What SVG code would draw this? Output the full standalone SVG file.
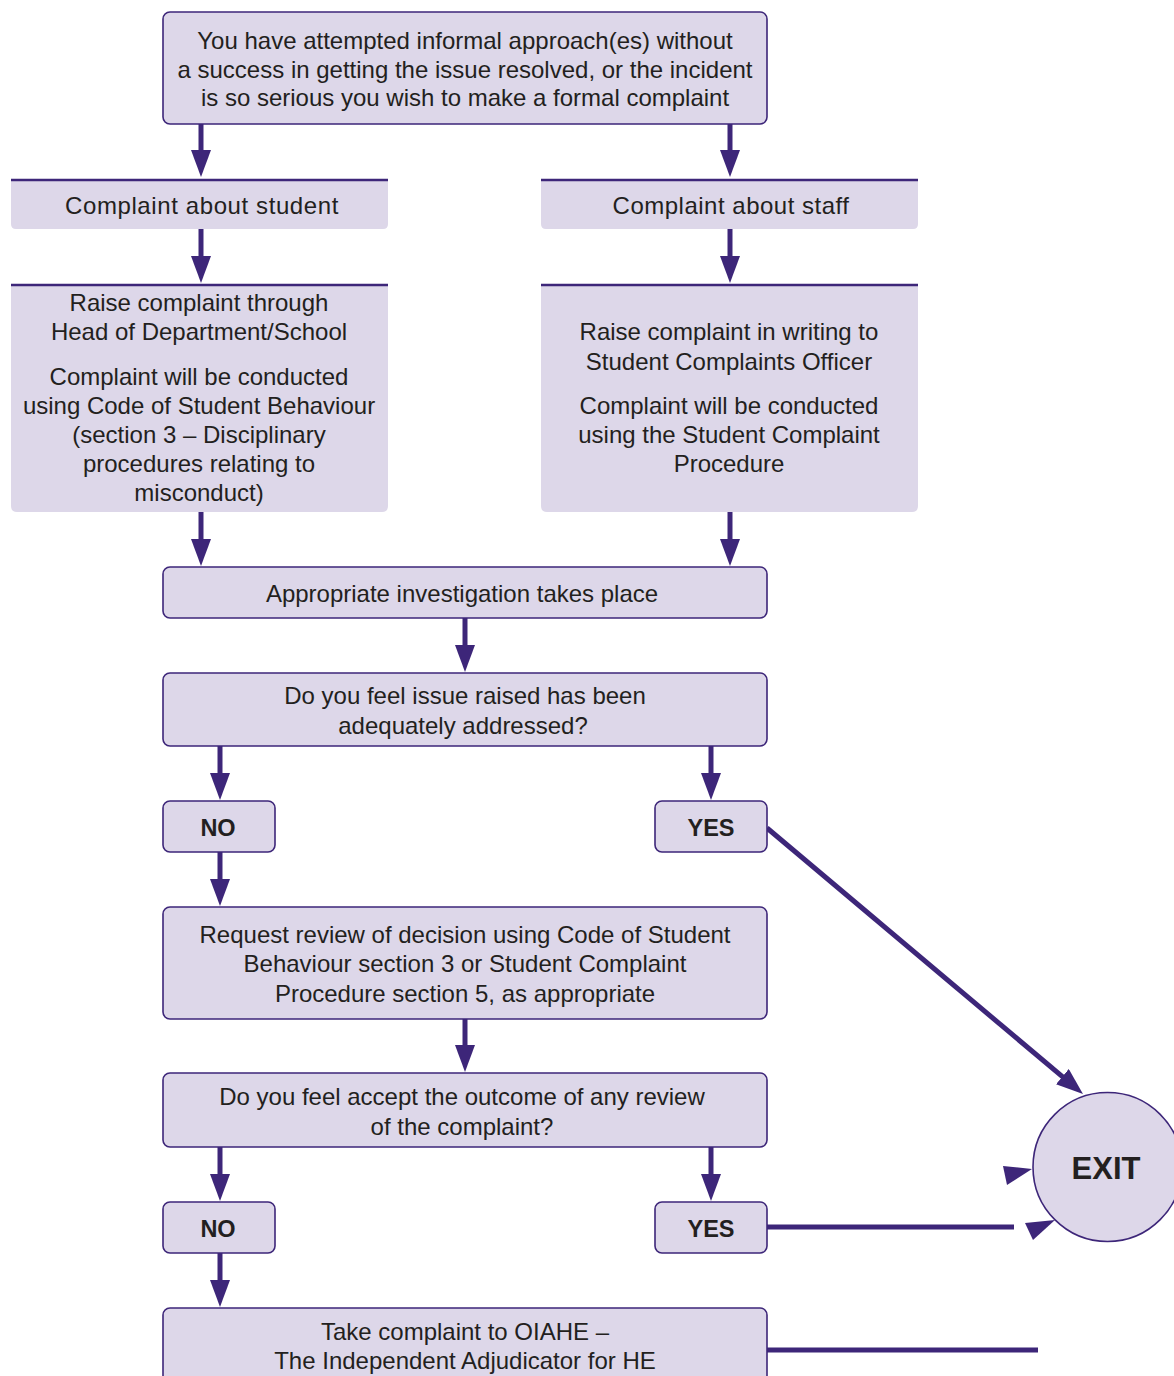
<svg xmlns="http://www.w3.org/2000/svg" width="1174" height="1376" viewBox="0 0 1174 1376">
<style>
  .box { fill: #ddd7e9; stroke: #3d2679; stroke-width: 1.6; }
  .pane { fill: #ddd7e9; }
  .topline { stroke: #3d2679; stroke-width: 2.5; }
  .t { font-family: "Liberation Sans", Arial, sans-serif; font-size: 24px; fill: #231f20; text-anchor: middle; }
  .b { font-family: "Liberation Sans", Arial, sans-serif; font-size: 23.5px; font-weight: bold; fill: #231f20; text-anchor: middle; }
  .exit { font-family: "Liberation Sans", Arial, sans-serif; font-size: 31px; font-weight: bold; fill: #231f20; text-anchor: middle; }
  .c { stroke: #3d2679; stroke-width: 5; fill: none; }
  .h { fill: #3d2679; }
</style>
<defs>
  <marker id="ah" markerUnits="userSpaceOnUse" markerWidth="27" markerHeight="20" refX="4" refY="10" orient="auto">
    <path d="M0,0 L27,10 L0,20 z" fill="#3d2679"/>
  </marker>
</defs>

<g id="connectors">
  <line class="c" x1="201" y1="124" x2="201" y2="154" marker-end="url(#ah)"/>
  <line class="c" x1="730" y1="124" x2="730" y2="154" marker-end="url(#ah)"/>
  <line class="c" x1="201" y1="229" x2="201" y2="260" marker-end="url(#ah)"/>
  <line class="c" x1="730" y1="229" x2="730" y2="260" marker-end="url(#ah)"/>
  <line class="c" x1="201" y1="512" x2="201" y2="543" marker-end="url(#ah)"/>
  <line class="c" x1="730" y1="512" x2="730" y2="543" marker-end="url(#ah)"/>
  <line class="c" x1="465" y1="618" x2="465" y2="649" marker-end="url(#ah)"/>
  <line class="c" x1="220" y1="746" x2="220" y2="777" marker-end="url(#ah)"/>
  <line class="c" x1="711" y1="746" x2="711" y2="777" marker-end="url(#ah)"/>
  <line class="c" x1="220" y1="852" x2="220" y2="883" marker-end="url(#ah)"/>
  <line class="c" x1="465" y1="1019" x2="465" y2="1049" marker-end="url(#ah)"/>
  <line class="c" x1="220" y1="1147" x2="220" y2="1178" marker-end="url(#ah)"/>
  <line class="c" x1="711" y1="1147" x2="711" y2="1178" marker-end="url(#ah)"/>
  <line class="c" x1="220" y1="1253" x2="220" y2="1284" marker-end="url(#ah)"/>
  <line class="c" x1="767" y1="828" x2="1065.4" y2="1079.2" marker-end="url(#ah)"/>
  <line class="c" x1="767" y1="1227" x2="1014" y2="1227"/>
  <line class="c" x1="767" y1="1350" x2="1038" y2="1350"/>
  <polygon class="h" points="1003,1166 1007,1185 1032,1169"/>
  <polygon class="h" points="1025,1223 1033,1240 1055,1220"/>
</g>

<g id="start">
  <rect class="box" x="163" y="12" width="604" height="112" rx="7"/>
  <text class="t" x="465" y="49">You have attempted informal approach(es) without</text>
  <text class="t" x="465" y="77.5">a success in getting the issue resolved, or the incident</text>
  <text class="t" x="465" y="106">is so serious you wish to make a formal complaint</text>
</g>

<g id="about-student">
  <path class="pane" d="M11,179 H388 V224 Q388,229 383,229 H16 Q11,229 11,224 Z"/>
  <line class="topline" x1="11" y1="180" x2="388" y2="180"/>
  <text class="t" x="202" y="214" letter-spacing="0.6">Complaint about student</text>
</g>

<g id="about-staff">
  <path class="pane" d="M541,179 H918 V224 Q918,229 913,229 H546 Q541,229 541,224 Z"/>
  <line class="topline" x1="541" y1="180" x2="918" y2="180"/>
  <text class="t" x="731" y="214" letter-spacing="0.5">Complaint about staff</text>
</g>

<g id="student-route">
  <path class="pane" d="M11,284 H388 V506 Q388,512 382,512 H17 Q11,512 11,506 Z"/>
  <line class="topline" x1="11" y1="285" x2="388" y2="285"/>
  <text class="t" x="199" y="311">Raise complaint through</text>
  <text class="t" x="199" y="340">Head of Department/School</text>
  <text class="t" x="199" y="384.5">Complaint will be conducted</text>
  <text class="t" x="199" y="413.5">using Code of Student Behaviour</text>
  <text class="t" x="199" y="442.5">(section 3 – Disciplinary</text>
  <text class="t" x="199" y="471.5">procedures relating to</text>
  <text class="t" x="199" y="500.5">misconduct)</text>
</g>

<g id="staff-route">
  <path class="pane" d="M541,284 H918 V506 Q918,512 912,512 H547 Q541,512 541,506 Z"/>
  <line class="topline" x1="541" y1="285" x2="918" y2="285"/>
  <text class="t" x="729" y="340">Raise complaint in writing to</text>
  <text class="t" x="729" y="369.5">Student Complaints Officer</text>
  <text class="t" x="729" y="413.5">Complaint will be conducted</text>
  <text class="t" x="729" y="442.5">using the Student Complaint</text>
  <text class="t" x="729" y="471.5">Procedure</text>
</g>

<g id="investigation">
  <rect class="box" x="163" y="567" width="604" height="51" rx="7"/>
  <text class="t" x="462" y="602">Appropriate investigation takes place</text>
</g>

<g id="question1">
  <rect class="box" x="163" y="673" width="604" height="73" rx="7"/>
  <text class="t" x="465" y="704">Do you feel issue raised has been</text>
  <text class="t" x="463" y="734">adequately addressed?</text>
</g>

<g id="no1">
  <rect class="box" x="163" y="801" width="112" height="51" rx="7"/>
  <text class="b" x="218" y="836">NO</text>
</g>

<g id="yes1">
  <rect class="box" x="655" y="801" width="112" height="51" rx="7"/>
  <text class="b" x="711" y="836">YES</text>
</g>

<g id="review">
  <rect class="box" x="163" y="907" width="604" height="112" rx="7"/>
  <text class="t" x="465" y="943">Request review of decision using Code of Student</text>
  <text class="t" x="465" y="972">Behaviour section 3 or Student Complaint</text>
  <text class="t" x="465" y="1002">Procedure section 5, as appropriate</text>
</g>

<g id="question2">
  <rect class="box" x="163" y="1073" width="604" height="74" rx="7"/>
  <text class="t" x="462" y="1105">Do you feel accept the outcome of any review</text>
  <text class="t" x="462" y="1135">of the complaint?</text>
</g>

<g id="no2">
  <rect class="box" x="163" y="1202" width="112" height="51" rx="7"/>
  <text class="b" x="218" y="1237">NO</text>
</g>

<g id="yes2">
  <rect class="box" x="655" y="1202" width="112" height="51" rx="7"/>
  <text class="b" x="711" y="1237">YES</text>
</g>

<g id="oiahe">
  <rect class="box" x="163" y="1308" width="604" height="90" rx="7"/>
  <text class="t" x="465" y="1340">Take complaint to OIAHE –</text>
  <text class="t" x="465" y="1369">The Independent Adjudicator for HE</text>
</g>

<g id="exit">
  <circle class="box" cx="1107.5" cy="1167" r="74.5"/>
  <text class="exit" x="1106" y="1179">EXIT</text>
</g>
</svg>
